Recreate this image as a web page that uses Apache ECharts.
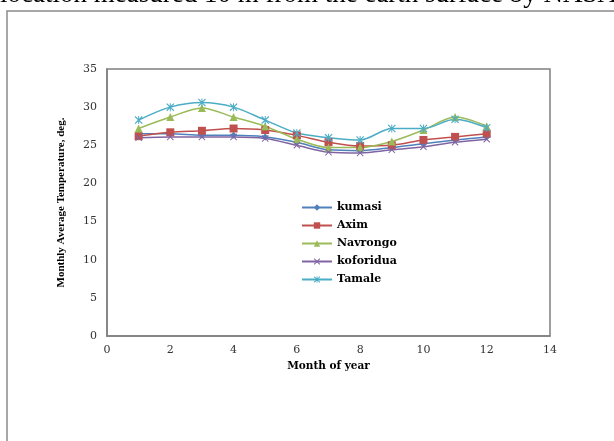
<!DOCTYPE html>
<html lang="en">
<head>
    <meta charset="UTF-8">
    <title>Monthly Average Temperature</title>
    <script type="text/javascript" src="https://cdn.jsdelivr.net/npm/echarts@6/dist/echarts.min.js"></script>
    <style>
        html, body { margin: 0; padding: 0; background: #fff; }
    </style>
</head>
<body>
<div id="main" style="width:614px;height:441px;"></div>
</body>

<script>
    // months along x axis
    let months = [1, 2, 3, 4, 5, 6, 7, 8, 9, 10, 11, 12];
    let stations = ['kumasi', 'Axim', 'Navrongo', 'koforidua', 'Tamale'];

    let kumasi    = [26.5, 26.5, 26.3, 26.3, 26.1, 25.4, 24.4, 24.3, 24.7, 25.2, 25.7, 26.1];
    let axim      = [26.2, 26.7, 26.9, 27.2, 27.0, 26.3, 25.4, 24.9, 25.0, 25.7, 26.1, 26.5];
    let navrongo  = [27.2, 28.7, 29.9, 28.7, 27.5, 25.8, 24.7, 24.7, 25.5, 27.0, 28.7, 27.5];
    let koforidua = [26.0, 26.1, 26.1, 26.1, 25.9, 25.0, 24.1, 24.0, 24.4, 24.8, 25.4, 25.8];
    let tamale    = [28.3, 30.0, 30.6, 30.0, 28.3, 26.6, 26.0, 25.7, 27.2, 27.2, 28.4, 27.3];

    let colors = ['#4F81BD', '#C0504D', '#9BBB59', '#8064A2', '#4BACC6'];

    const xMark = 'path://M0,1L1,0L5,4L9,0L10,1L6,5L10,9L9,10L5,6L1,10L0,9L4,5Z';
    const starMark = 'path://M0,1L1,0L5,4L9,0L10,1L6,5L10,9L9,10L5,6L1,10L0,9L4,5Z M4.4,0L5.6,0L5.6,10L4.4,10Z';
    let symbols = ['diamond', 'rect', 'triangle', xMark, starMark];
    let sizes = [7, 8, 8, 7, 8];

    let values = [kumasi, axim, navrongo, koforidua, tamale];

    const serif = '"DejaVu Serif", "Liberation Serif", serif';

    let myChart = echarts.init(document.getElementById('main'));

    let series = stations.map((name, i) => ({
        name: name,
        type: 'line',
        smooth: 0.3,
        symbol: symbols[i],
        symbolSize: sizes[i],
        data: months.map((m, k) => [m, values[i][k]]),
        lineStyle: { color: colors[i], width: 1.5 },
        itemStyle: { color: colors[i] }
    }));

    let option = {
        animation: false,
        backgroundColor: '#fff',
        color: colors,
        graphic: [
            {
                type: 'text',
                x: 0,
                y: -19,
                style: {
                    text: 'location measured 10 m from the earth surface by NASA',
                    font: '27px "Liberation Serif", "Times New Roman", serif',
                    fill: '#000'
                }
            },
            {
                type: 'rect',
                shape: { x: 7, y: 11, width: 700, height: 500 },
                style: { fill: 'none', stroke: '#8a8a8a', lineWidth: 1.5 },
                z: -1
            }
        ],
        legend: {
            orient: 'vertical',
            left: 296,
            top: 196,
            itemWidth: 30,
            itemHeight: 8,
            itemGap: 5,
            data: stations,
            textStyle: {
                fontFamily: serif,
                fontSize: 11,
                fontWeight: 'bold',
                color: '#000',
                lineHeight: 13
            }
        },
        grid: {
            left: 107,
            top: 69,
            right: 64,
            bottom: 105,
            show: true,
            borderColor: '#7f7f7f',
            borderWidth: 1.5
        },
        xAxis: {
            type: 'value',
            min: 0,
            max: 14,
            interval: 2,
            name: 'Month of year',
            nameLocation: 'middle',
            nameGap: 22,
            nameTextStyle: {
                fontFamily: serif,
                fontSize: 10.5,
                fontWeight: 'bold',
                color: '#000'
            },
            axisLine: { lineStyle: { color: '#7f7f7f', width: 1.5 } },
            axisTick: { show: false },
            splitLine: { show: false },
            axisLabel: {
                fontFamily: serif,
                fontSize: 11,
                color: '#333',
                margin: 9
            }
        },
        yAxis: {
            type: 'value',
            min: 0,
            max: 35,
            interval: 5,
            name: 'Monthly Average Temperature, deg.',
            nameLocation: 'middle',
            nameGap: 40,
            nameTextStyle: {
                fontFamily: '"Liberation Serif", serif',
                fontSize: 11,
                fontWeight: 'bold',
                color: '#000'
            },
            axisLine: { show: true, lineStyle: { color: '#7f7f7f', width: 1.5 } },
            axisTick: { show: false },
            splitLine: { show: false },
            axisLabel: {
                fontFamily: serif,
                fontSize: 11,
                color: '#333',
                margin: 10
            }
        },
        series: series
    };

    myChart.setOption(option);
</script>
</html>
